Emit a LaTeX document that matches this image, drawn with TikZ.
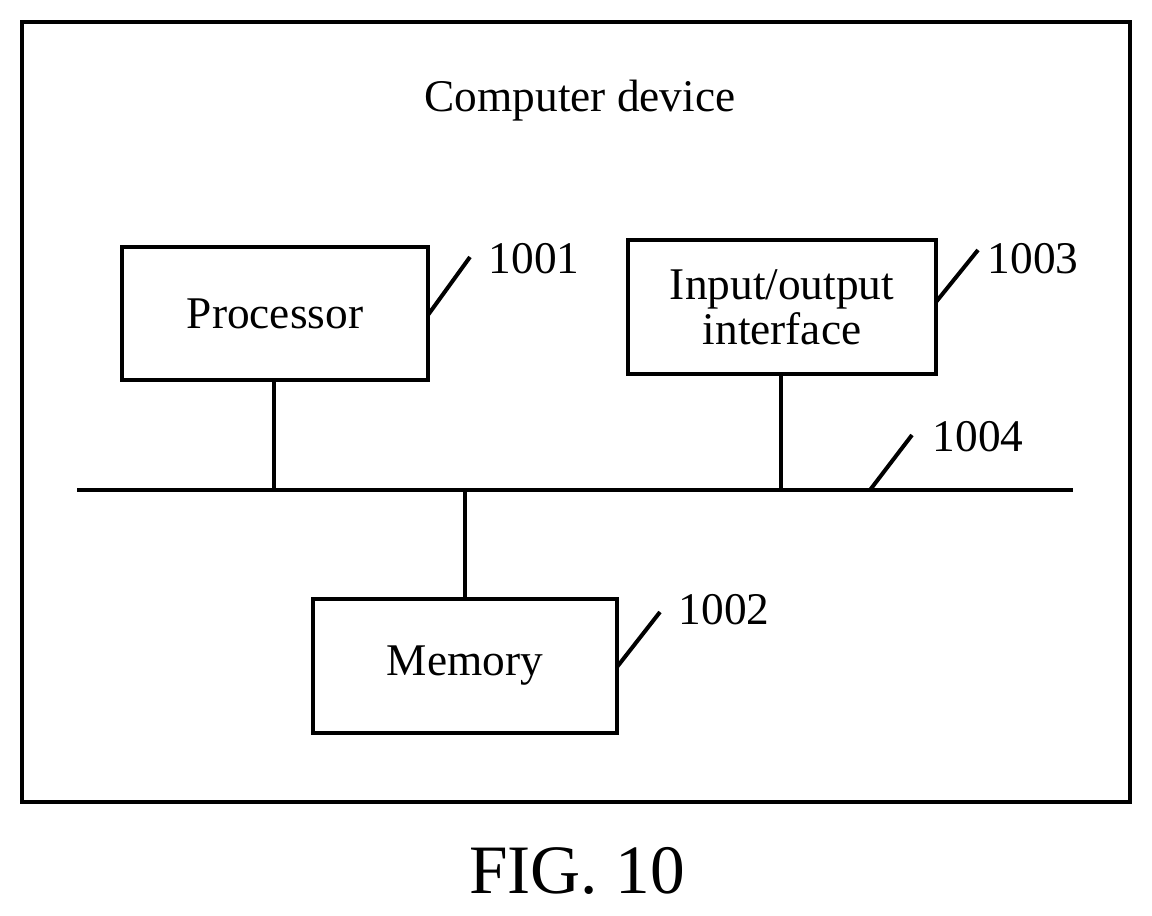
\documentclass[tikz,border=0pt]{standalone}
\usepackage{fontspec}
\setmainfont{Liberation Serif}
\begin{document}
\begin{tikzpicture}[x=0.75pt,y=-0.75pt,
  box/.style={draw,line width=3pt,inner sep=0pt},
  ln/.style={line width=3pt},
  txt/.style={font=\fontsize{34}{38}\selectfont,align=center,inner sep=0pt}]
\useasboundingbox (0,0) rectangle (1152,916);
\draw[ln] (22,22) rectangle (1130,802);
\node[txt] (title) at (580,101) {Computer device};
\node[box,minimum width=306*0.75pt,minimum height=133*0.75pt] (proc) at (275,313.5) {};
\node[txt] at (proc) {Processor};
\node[box,minimum width=308*0.75pt,minimum height=134*0.75pt] (io) at (782,307) {};
\node[txt] at (io) {Input/output\\[-4pt]interface};
\node[box,minimum width=304*0.75pt,minimum height=134*0.75pt] (mem) at (465,666) {};
\node[txt] at (mem) {Memory};
\coordinate (bl) at (77,490); \coordinate (br) at (1073,490);
\draw[ln] (bl) -- (br);
\coordinate (b1) at (274,490); \coordinate (b2) at (781,490); \coordinate (b3) at (465,490);
\draw[ln] (proc.south -| b1) -- (b1);
\draw[ln] (io.south -| b2) -- (b2);
\draw[ln] (b3) -- (mem.north -| b3);
\coordinate (l1a) at (428,315); \coordinate (l1b) at (470,257);
\coordinate (l3a) at (936,302); \coordinate (l3b) at (978,250);
\coordinate (l4a) at (870,490); \coordinate (l4b) at (912,435);
\coordinate (l2a) at (617,667); \coordinate (l2b) at (660,612);
\draw[ln] (l1a)--(l1b); \draw[ln] (l3a)--(l3b); \draw[ln] (l4a)--(l4b); \draw[ln] (l2a)--(l2b);
\node[txt] (t1) at (534,259) {1001};
\node[txt] (t3) at (1033,259) {1003};
\node[txt] (t4) at (978,437) {1004};
\node[txt] (t2) at (724,610) {1002};
\node[font=\fontsize{52}{56}\selectfont,inner sep=0pt] (fig) at (577,871) {FIG. 10};
\end{tikzpicture}
\end{document}
